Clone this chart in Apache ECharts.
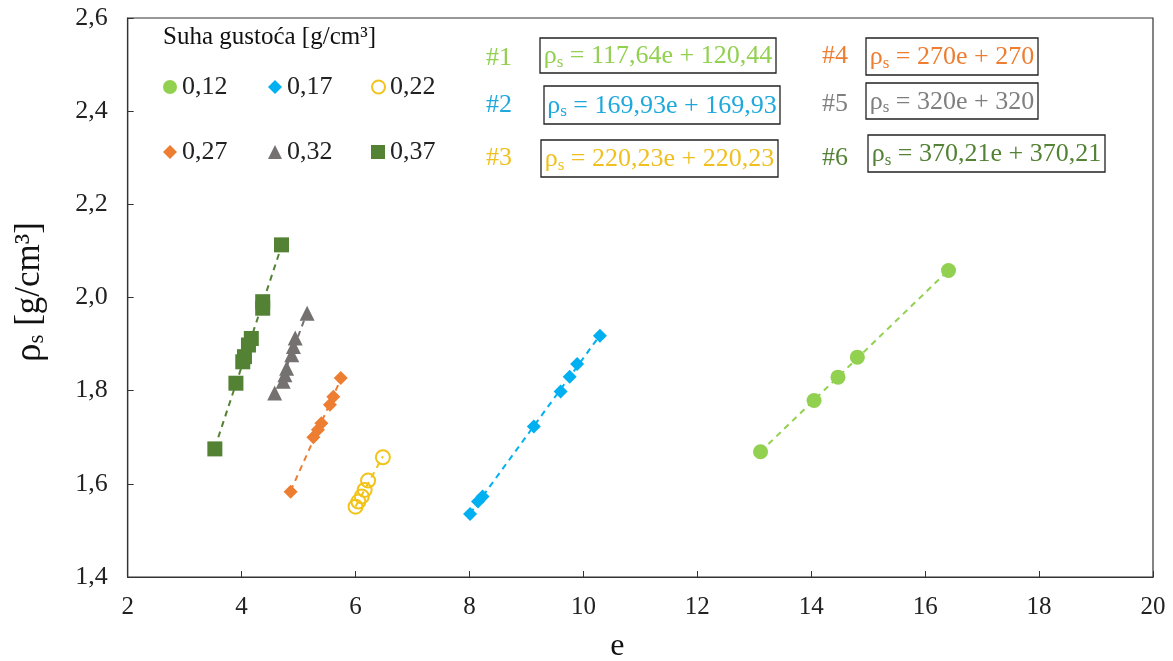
<!DOCTYPE html>
<html>
<head>
<meta charset="utf-8">
<script src="https://cdn.jsdelivr.net/npm/echarts@6/dist/echarts.min.js"></script>
<style>
html,body{margin:0;padding:0;background:#fff;}
#chart{width:1173px;height:661px;}
</style>
</head>
<body>
<div id="chart"></div>
<script>
// ---- data ----
const seriesNames = ['0,12', '0,17', '0,22', '0,27', '0,32', '0,37'];
const e012 = [13.11, 14.05, 14.47, 14.81, 16.41];
const rho012 = [1.669, 1.779, 1.829, 1.872, 2.058];
const e017 = [8.01, 8.15, 8.23, 9.13, 9.60, 9.76, 9.89, 10.29];
const rho017 = [1.535, 1.562, 1.573, 1.723, 1.798, 1.830, 1.857, 1.918];
const e022 = [6.00, 6.05, 6.11, 6.16, 6.22, 6.48];
const rho022 = [1.551, 1.562, 1.573, 1.587, 1.607, 1.657];
const e027 = [4.86, 5.26, 5.34, 5.40, 5.55, 5.61, 5.74];
const rho027 = [1.583, 1.700, 1.716, 1.730, 1.770, 1.787, 1.827];
const e032 = [4.58, 4.73, 4.76, 4.79, 4.88, 4.91, 4.94, 5.15];
const rho032 = [1.795, 1.820, 1.834, 1.848, 1.877, 1.895, 1.913, 1.966];
const e037 = [3.53, 3.90, 4.02, 4.05, 4.12, 4.17, 4.37, 4.37, 4.70];
const rho037 = [1.675, 1.816, 1.862, 1.873, 1.898, 1.912, 1.977, 1.991, 2.113];
const equationLabels = ['#1', '#2', '#3', '#4', '#5', '#6'];
const equationTexts = [
  ' = 117,64e + 120,44',
  ' = 169,93e + 169,93',
  ' = 220,23e + 220,23',
  ' = 270e + 270',
  ' = 320e + 320',
  ' = 370,21e + 370,21'
];
const xTicks = [2, 4, 6, 8, 10, 12, 14, 16, 18, 20];
const yTicks = [1.4, 1.6, 1.8, 2.0, 2.2, 2.4, 2.6];

// ---- styling ----
const FONT = "'Times New Roman','Liberation Serif',serif";
const colors = ['#92D050', '#00B0F0', '#F2C318', '#ED7D31', '#767171', '#548235'];
const textColors = ['#92D050', '#1FA8DC', '#F0C020', '#ED7D31', '#7F7F7F', '#548235'];
const symbols = ['circle', 'diamond', 'emptyCircle', 'diamond', 'triangle', 'rect'];
const symbolSizes = [15, 14, 14, 14, 15, 15];
const eArrs = [e012, e017, e022, e027, e032, e037];
const rArrs = [rho012, rho017, rho022, rho027, rho032, rho037];

function fit(xs, ys) {
  const n = xs.length;
  let sx = 0, sy = 0, sxx = 0, sxy = 0;
  for (let i = 0; i < n; i++) { sx += xs[i]; sy += ys[i]; sxx += xs[i] * xs[i]; sxy += xs[i] * ys[i]; }
  const b = (n * sxy - sx * sy) / (n * sxx - sx * sx);
  const a = (sy - b * sx) / n;
  const x0 = Math.min(...xs), x1 = Math.max(...xs);
  return [[x0, a + b * x0], [x1, a + b * x1]];
}

const series = [];
for (let i = 0; i < 6; i++) {
  series.push({
    type: 'line',
    name: seriesNames[i] + '_trend',
    data: fit(eArrs[i], rArrs[i]),
    showSymbol: false,
    symbol: 'none',
    lineStyle: { color: colors[i], width: 2, type: [6, 5] },
    silent: true,
    z: 1
  });
}
for (let i = 0; i < 6; i++) {
  const isEmpty = symbols[i] === 'emptyCircle';
  series.push({
    type: 'scatter',
    name: seriesNames[i],
    data: eArrs[i].map((x, k) => [x, rArrs[i][k]]),
    symbol: isEmpty ? 'circle' : symbols[i],
    symbolSize: symbolSizes[i],
    itemStyle: isEmpty
      ? { color: 'rgba(255,255,255,0)', borderColor: colors[i], borderWidth: 2, opacity: 1 }
      : { color: colors[i], opacity: 1 },
    z: 3
  });
}

// legend items at fixed positions (2 rows x 3 columns)
const legendPos = [[163, 74], [268, 74], [371, 74], [163, 139], [268, 139], [371, 139]];
const legends = seriesNames.map((n, i) => {
  const isEmpty = symbols[i] === 'emptyCircle';
  return {
    data: [{ name: n, icon: isEmpty ? 'circle' : symbols[i] }],
    left: legendPos[i][0],
    top: legendPos[i][1],
    itemWidth: isEmpty ? 13 : 14,
    itemHeight: isEmpty ? 13 : 14,
    itemGap: 0,
    padding: 0,
    selectedMode: false,
    itemStyle: isEmpty ? { color: 'rgba(255,255,255,0)', borderColor: colors[i], borderWidth: 2 } : { color: colors[i] },
    textStyle: { fontFamily: FONT, fontSize: 26, color: '#222', padding: [0, 0, 0, 0] }
  };
});

// equation graphics
const eqPos = [
  { lx: 486, ly: 58, bx: 540, by: 38, bw: 236, bh: 35 },
  { lx: 486, ly: 105, bx: 544, by: 86, bw: 236, bh: 38 },
  { lx: 486, ly: 158, bx: 541, by: 140, bw: 237, bh: 37 },
  { lx: 822, ly: 56, bx: 866, by: 38, bw: 172, bh: 37 },
  { lx: 822, ly: 104, bx: 866, by: 83, bw: 172, bh: 36 },
  { lx: 822, ly: 158, bx: 868, by: 135, bw: 237, bh: 37 }
];
const graphics = [{
  type: 'text', left: 163, top: 25,
  style: { text: 'Suha gustoća [g/cm³]', font: '25px ' + FONT, fill: '#111' }
}];
eqPos.forEach((p, i) => {
  graphics.push({
    type: 'text', x: p.lx, y: p.ly,
    style: { text: equationLabels[i], font: '26px ' + FONT, fill: textColors[i], verticalAlign: 'middle', align: 'left' }
  });
  graphics.push({
    type: 'rect', shape: { x: p.bx, y: p.by, width: p.bw, height: p.bh },
    style: { fill: 'none', stroke: '#222', lineWidth: 1.3 }
  });
  graphics.push({
    type: 'text', x: p.bx + p.bw / 2, y: p.by + p.bh / 2 + 1,
    style: {
      text: '{r|ρ}{s|s}{t|' + equationTexts[i] + '}',
      align: 'center', verticalAlign: 'middle',
      rich: {
        r: { fontFamily: FONT, fontSize: 26, fill: textColors[i], color: textColors[i] },
        s: { fontFamily: FONT, fontSize: 17, fill: textColors[i], color: textColors[i], padding: [12, 0, 0, 0] },
        t: { fontFamily: FONT, fontSize: 26, fill: textColors[i], color: textColors[i] }
      }
    }
  });
});
// y axis title (rotated, with subscript)
graphics.push({
  type: 'text', x: 30, y: 292, rotation: Math.PI / 2,
  style: {
    text: '{r|ρ}{s|s}{t| [g/cm³]}',
    align: 'center', verticalAlign: 'middle',
    rich: {
      r: { fontFamily: FONT, fontSize: 37, fill: '#111' },
      s: { fontFamily: FONT, fontSize: 23, fill: '#111', padding: [14, 0, 0, 0] },
      t: { fontFamily: FONT, fontSize: 35, fill: '#111' }
    }
  }
});

const chart = echarts.init(document.getElementById('chart'));
chart.setOption({
  backgroundColor: '#fff',
  animation: false,
  grid: { left: 127.7, right: 20, top: 18, bottom: 84, show: true, borderColor: '#333', borderWidth: 1.2,
          containLabel: false, outerBoundsMode: 'none' },
  xAxis: {
    type: 'value', min: xTicks[0], max: xTicks[xTicks.length - 1], interval: 2,
    name: 'e', nameLocation: 'middle', nameGap: 54,
    nameTextStyle: { fontFamily: FONT, fontSize: 32, color: '#111', padding: [0, 46, 0, 0] },
    axisLine: { show: true, lineStyle: { color: '#333', width: 1.2 } },
    axisTick: { show: true, inside: true, length: 6, lineStyle: { color: '#333' } },
    axisLabel: { fontFamily: FONT, fontSize: 25, color: '#222', margin: 18 },
    splitLine: { show: false }
  },
  yAxis: {
    type: 'value', min: yTicks[0], max: yTicks[yTicks.length - 1], interval: 0.2,
    axisLine: { show: true, lineStyle: { color: '#333', width: 1.2 } },
    axisTick: { show: true, inside: true, length: 6, lineStyle: { color: '#333' } },
    axisLabel: { fontFamily: FONT, fontSize: 26, color: '#222', margin: 20,
      formatter: v => v.toFixed(1).replace('.', ',') },
    splitLine: { show: false }
  },
  legend: legends,
  series: series,
  graphic: graphics
});
</script>
</body>
</html>
